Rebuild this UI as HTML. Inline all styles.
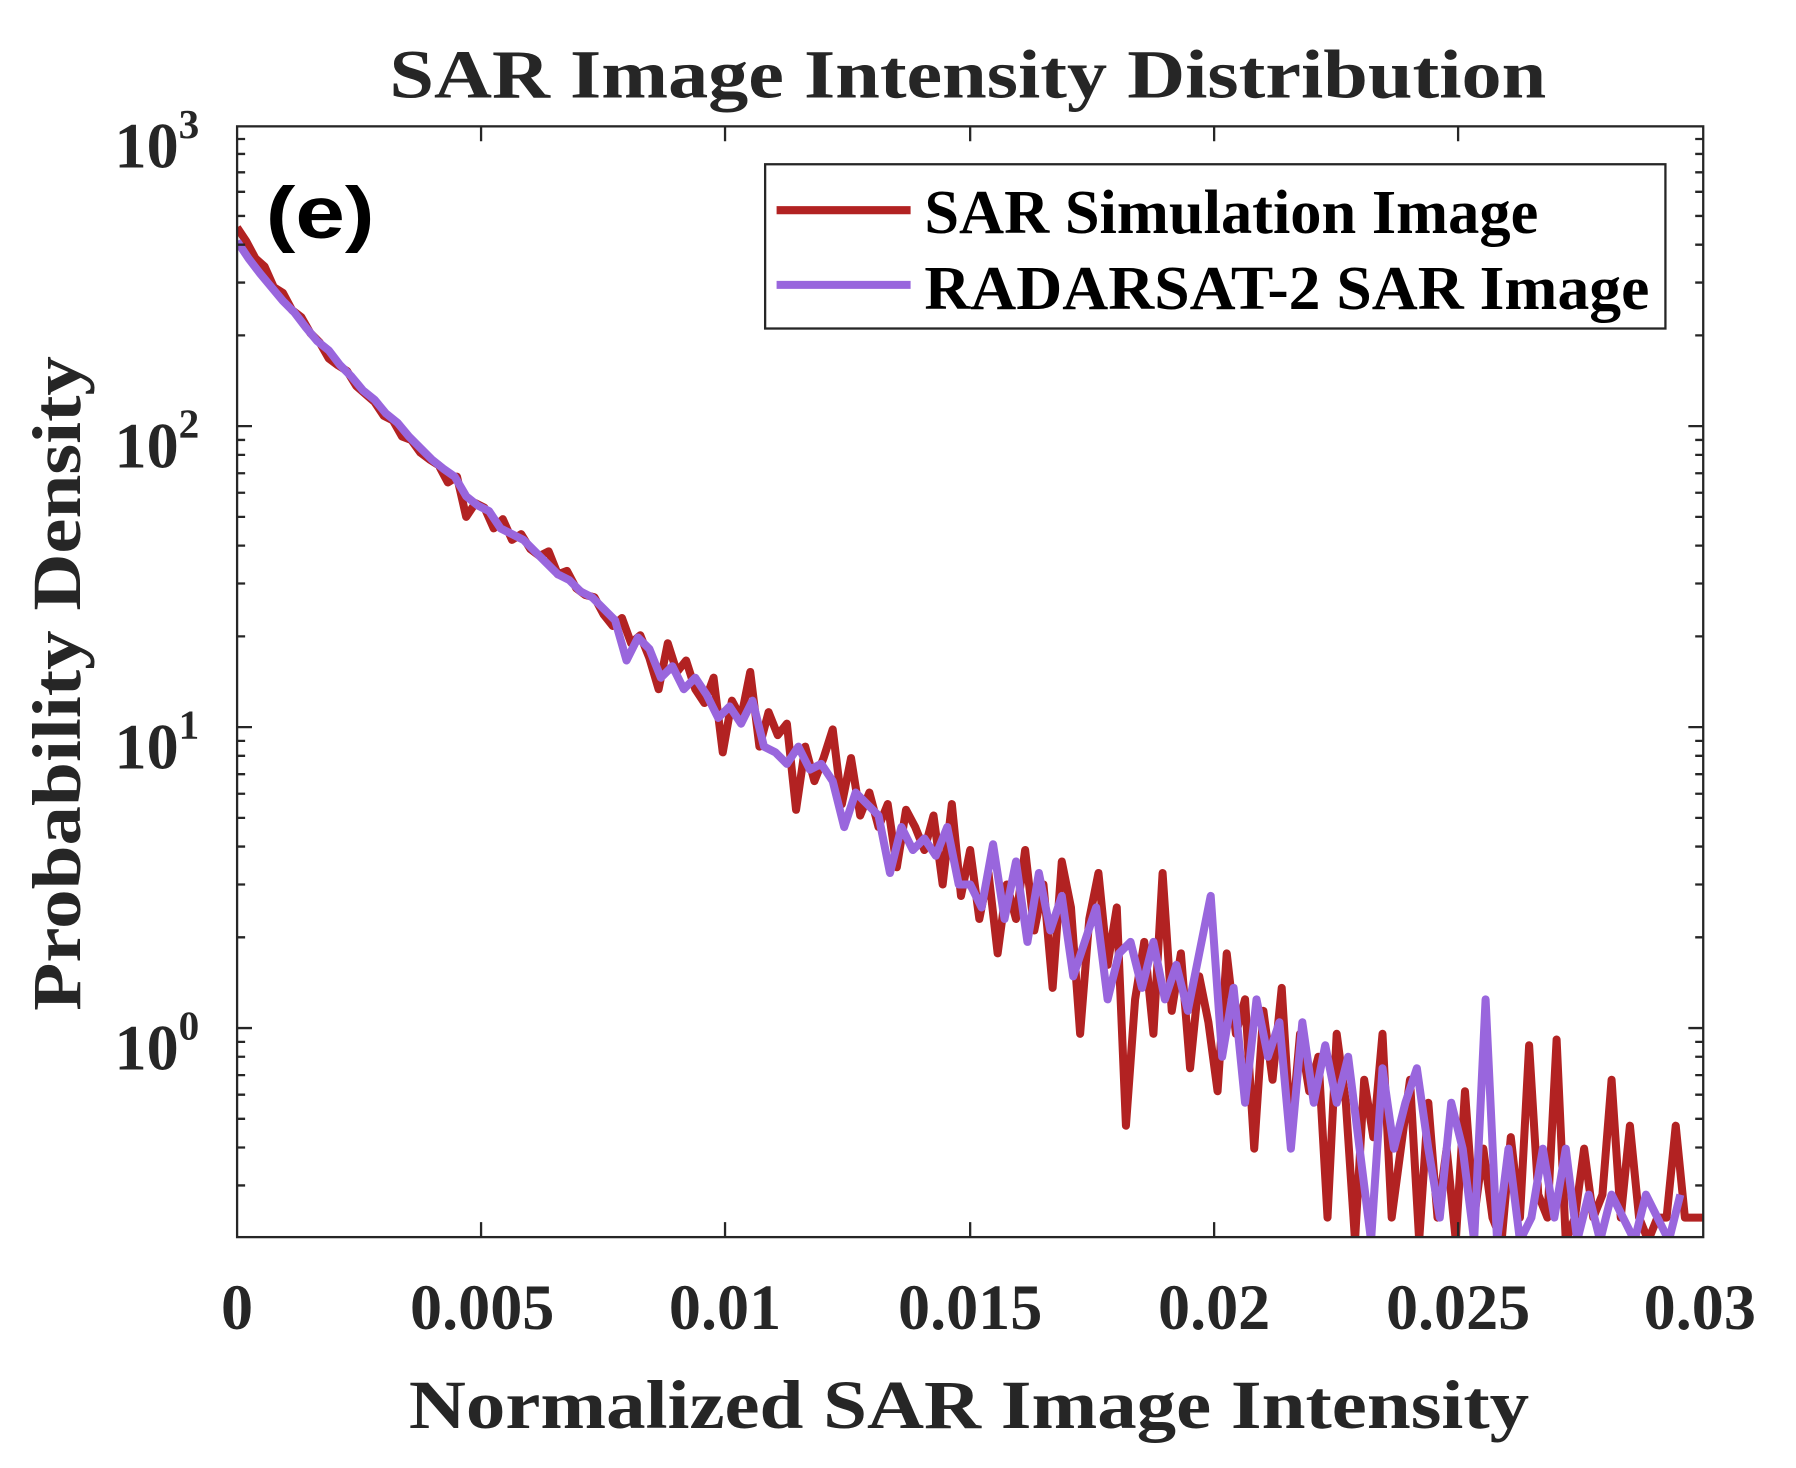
<!DOCTYPE html>
<html><head><meta charset="utf-8"><style>
html,body{margin:0;padding:0;background:#fff;}
svg{display:block;}
</style></head><body>
<svg width="1796" height="1468" viewBox="0 0 1568 1278" preserveAspectRatio="none" xmlns="http://www.w3.org/2000/svg">
<rect width="1568" height="1278" fill="#fff"/>
<clipPath id="c"><rect x="207" y="110" width="1280" height="967"/></clipPath>
<g clip-path="url(#c)" fill="none" stroke-width="7" stroke-linejoin="round">
<polyline stroke="#b22222" points="207,198 215,210 223,225 231,232 239,250 247,255 255,270 263,276 271,290 279,298 287,312 295,318 303,323 311,336 319,343 327,350 335,362 343,366 351,380 359,383 367,394 375,400 383,405 391,420 399,415 407,450 415,438 423,442 431,460 439,452 447,470 455,465 463,478 471,484 479,480 487,500 495,497 503,512 511,518 519,520 527,535 535,545 543,538 551,560 559,553 567,573 575,600 583,560 591,585 599,575 607,600 615,612 623,590 631,655 639,610 647,625 655,585 663,650 671,620 679,640 687,630 695,705 703,650 711,680 719,660 727,635 735,700 743,660 751,710 759,690 767,720 775,700 783,755 791,705 799,720 807,740 815,710 823,770 831,700 839,780 847,740 855,800 863,760 871,830 879,770 887,800 895,740 903,810 911,770 919,860 927,750 935,790 943,900 951,800 959,760 967,840 975,790 983,980 991,870 999,820 1007,900 1015,760 1023,880 1031,830 1039,930 1047,850 1055,890 1063,950 1071,830 1079,900 1087,870 1095,1000 1103,880 1111,940 1119,860 1127,990 1135,900 1143,950 1151,920 1159,1060 1167,900 1175,960 1183,1080 1191,940 1199,990 1207,900 1215,1060 1223,1000 1231,940 1239,1080 1247,960 1255,1060 1263,1000 1271,1080 1279,950 1287,1060 1295,1000 1303,1060 1311,1080 1319,990 1327,1060 1335,910 1343,1040 1351,1060 1359,905 1367,1080 1375,1060 1383,1000 1391,1060 1399,1040 1407,940 1415,1060 1423,980 1431,1060 1439,1080 1447,1060 1455,1060 1463,980 1471,1060 1479,1060 1487,1060"/>
<polyline stroke="#9966dd" points="207,210 217,225 227,238 237,250 247,262 257,272 267,285 277,297 287,305 297,318 307,328 317,340 327,348 337,360 347,368 357,380 367,390 377,400 387,408 397,415 407,432 417,440 427,445 437,460 447,465 457,470 467,480 477,490 487,500 497,505 507,515 517,520 527,530 537,540 547,575 557,555 567,565 577,590 587,580 597,600 607,590 617,605 627,625 637,615 647,630 657,610 667,650 677,655 687,665 697,650 707,670 717,665 727,680 737,720 747,690 757,700 767,710 777,760 787,720 797,740 807,730 817,745 827,720 837,770 847,770 857,790 867,735 877,800 887,750 897,820 907,760 917,810 927,780 937,850 947,820 957,790 967,870 977,830 987,820 997,860 1007,820 1017,870 1027,840 1037,880 1047,830 1057,780 1067,920 1077,860 1087,960 1097,870 1107,920 1117,890 1127,1000 1137,890 1147,960 1157,910 1167,960 1177,920 1187,1000 1197,1080 1207,930 1217,1000 1227,960 1237,930 1247,1000 1257,1060 1267,960 1277,1000 1287,1080 1297,870 1307,1080 1317,1000 1327,1080 1337,1060 1347,1000 1357,1060 1367,1000 1377,1080 1387,1040 1397,1080 1407,1040 1417,1060 1427,1080 1437,1040 1447,1060 1457,1080 1467,1040"/>
</g>
<path fill="none" stroke="#262626" stroke-width="2" d="M420 1077v-13M633 1077v-13M847 1077v-13M1060 1077v-13M1273 1077v-13M420 110v13M633 110v13M847 110v13M1060 110v13M1273 110v13
M207 371h13M207 633h13M207 895h13M1487 371h-13M1487 633h-13M1487 895h-13
M207 1032h7M207 999h7M207 974h7M207 953h7M207 936h7M207 920h7M207 907h7
M207 816h7M207 770h7M207 737h7M207 712h7M207 691h7M207 674h7M207 658h7M207 645h7
M207 554h7M207 508h7M207 475h7M207 450h7M207 429h7M207 412h7M207 396h7M207 383h7
M207 292h7M207 246h7M207 213h7M207 188h7M207 167h7M207 150h7M207 134h7M207 121h7
M1487 1032h-7M1487 999h-7M1487 974h-7M1487 953h-7M1487 936h-7M1487 920h-7M1487 907h-7
M1487 816h-7M1487 770h-7M1487 737h-7M1487 712h-7M1487 691h-7M1487 674h-7M1487 658h-7M1487 645h-7
M1487 554h-7M1487 508h-7M1487 475h-7M1487 450h-7M1487 429h-7M1487 412h-7M1487 396h-7M1487 383h-7
M1487 292h-7M1487 246h-7M1487 213h-7M1487 188h-7M1487 167h-7M1487 150h-7M1487 134h-7M1487 121h-7"/>
<rect x="207" y="110" width="1280" height="967" fill="none" stroke="#262626" stroke-width="2"/>
<g font-family="Liberation Serif, serif" font-weight="bold" fill="#262626">
<text x="340" y="85" font-size="60" textLength="1010" lengthAdjust="spacingAndGlyphs">SAR Image Intensity  Distribution</text>
<text x="357" y="1243" font-size="60" textLength="978" lengthAdjust="spacingAndGlyphs">Normalized SAR Image Intensity</text>
<text transform="translate(70,880) rotate(-90)" font-size="60" textLength="570" lengthAdjust="spacingAndGlyphs">Probability Density</text>
<g font-size="56" text-anchor="middle">
<text x="207" y="1157">0</text><text x="421" y="1157">0.005</text><text x="633" y="1157">0.01</text>
<text x="847" y="1157">0.015</text><text x="1060" y="1157">0.02</text><text x="1273" y="1157">0.025</text><text x="1484" y="1157">0.03</text>
</g>
<g font-size="56">
<text x="100" y="146">10<tspan font-size="36" dy="-26">3</tspan></text>
<text x="100" y="407">10<tspan font-size="36" dy="-26">2</tspan></text>
<text x="100" y="669">10<tspan font-size="36" dy="-26">1</tspan></text>
<text x="100" y="931">10<tspan font-size="36" dy="-26">0</tspan></text>
</g>
</g>
<text x="232" y="207" font-family="Liberation Sans, sans-serif" font-weight="bold" font-size="64" fill="#000" textLength="95" lengthAdjust="spacingAndGlyphs">(e)</text>
<rect x="668" y="143" width="786" height="143" fill="#fff" stroke="#262626" stroke-width="2"/>
<line x1="678" y1="183" x2="795" y2="183" stroke="#b22222" stroke-width="7"/>
<line x1="678" y1="248" x2="795" y2="248" stroke="#9966dd" stroke-width="7"/>
<g font-family="Liberation Serif, serif" font-weight="bold" font-size="54" fill="#000">
<text x="807" y="203" textLength="536" lengthAdjust="spacingAndGlyphs">SAR Simulation Image</text>
<text x="807" y="269" textLength="633" lengthAdjust="spacingAndGlyphs">RADARSAT-2 SAR Image</text>
</g>
</svg>
</body></html>
